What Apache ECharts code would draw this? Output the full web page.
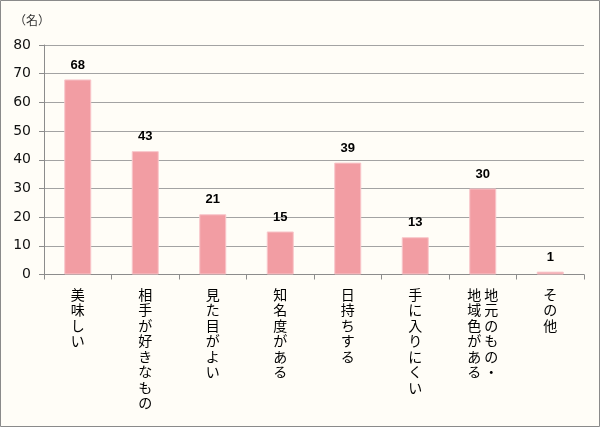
<!DOCTYPE html>
<html><head><meta charset="utf-8">
<script src="https://cdn.jsdelivr.net/npm/echarts@6/dist/echarts.min.js"></script>
<style>html,body{margin:0;padding:0;background:#FFFDF7}#c{width:600px;height:427px}</style>
</head><body><div id="c"></div>
<script>
const categories = ["美味しい","相手が好きなもの","見た目がよい","知名度がある","日持ちする","手に入りにくい","地元のもの・\n地域色がある","その他"];
const values = [68,43,21,15,39,13,30,1];
const yTicks = {min:0,max:80,interval:10};
const unitLabel = "（名）";

function vertical(s){
  const cols = s.split('\n').reverse();
  const n = Math.max(...cols.map(c=>c.length));
  const rows=[];
  for(let i=0;i<n;i++){
    rows.push(cols.map(c=>c[i]||'\u3000').join(' '));
  }
  return rows.join('\n');
}
const chart = echarts.init(document.getElementById('c'));
chart.setOption({
  backgroundColor:'#FFFDF7',
  animation:false,
  grid:{left:44,right:16,top:45,bottom:152.5,containLabel:false},
  xAxis:{type:'category',data:categories,
    axisLine:{lineStyle:{color:'#8c8c8c',width:1}},
    axisTick:{show:true,length:5,lineStyle:{color:'#8c8c8c'}},
    axisLabel:{interval:0,margin:12,formatter:vertical,color:'#000',fontSize:14,lineHeight:15.5,
      fontFamily:'Noto Sans CJK JP',verticalAlign:'top'}
  },
  yAxis:{type:'value',min:yTicks.min,max:yTicks.max,interval:yTicks.interval,
    axisLine:{show:true,lineStyle:{color:'#8c8c8c'}},
    axisTick:{show:true,length:5,lineStyle:{color:'#8c8c8c'}},
    splitLine:{lineStyle:{color:'#a3a3a3',width:1}},
    axisLabel:{margin:13,color:'#111',fontSize:14,fontFamily:'DejaVu Sans'}
  },
  graphic:[
    {type:'rect',shape:{x:0.5,y:0.5,width:599,height:426},style:{fill:'none',stroke:'#8a8a8a',lineWidth:1},silent:true},
    {type:'text',left:14,top:14,style:{text:unitLabel,font:'12px "Noto Sans CJK JP"',fill:'#333'}}
  ],
  series:[{type:'bar',data:values,barWidth:'40%',
    itemStyle:{color:'#F29DA3',borderColor:'#F8C6CA',borderWidth:1},
    label:{show:true,position:'top',distance:8,color:'#000',fontWeight:'bold',fontSize:13,fontFamily:'Liberation Sans'}
  }]
});
</script></body></html>
